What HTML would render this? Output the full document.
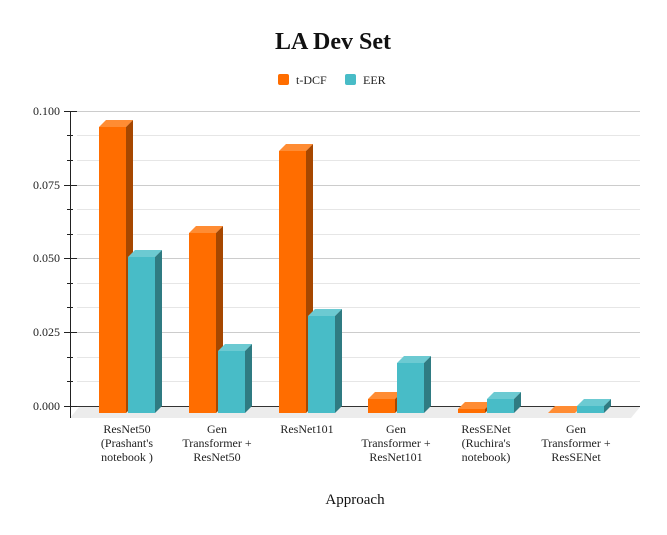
<!DOCTYPE html>
<html><head><style>body{margin:0;background:#fff}svg{display:block;font-family:"Liberation Serif",serif}</style></head><body>
<svg width="667" height="535" viewBox="0 0 667 535">
<text x="333" y="49" text-anchor="middle" font-size="24" font-weight="bold" fill="#111">LA Dev Set</text>
<rect x="278" y="74" width="11" height="11" rx="2" fill="#ff6d00"/><text x="296" y="84" font-size="12" fill="#222">t-DCF</text>
<rect x="345" y="74" width="11" height="11" rx="2" fill="#48bcc7"/><text x="363" y="84" font-size="12" fill="#222">EER</text>
<polygon points="70,418 79,407 640,407 631,418" fill="#ececec"/>
<g stroke-width="1">
<line x1="77" y1="111.5" x2="640" y2="111.5" stroke="#ccc"/>
<line x1="77" y1="135.5" x2="640" y2="135.5" stroke="#e6e6e6"/>
<line x1="77" y1="160.5" x2="640" y2="160.5" stroke="#e6e6e6"/>
<line x1="77" y1="185.5" x2="640" y2="185.5" stroke="#ccc"/>
<line x1="77" y1="209.5" x2="640" y2="209.5" stroke="#e6e6e6"/>
<line x1="77" y1="234.5" x2="640" y2="234.5" stroke="#e6e6e6"/>
<line x1="77" y1="258.5" x2="640" y2="258.5" stroke="#ccc"/>
<line x1="77" y1="283.5" x2="640" y2="283.5" stroke="#e6e6e6"/>
<line x1="77" y1="307.5" x2="640" y2="307.5" stroke="#e6e6e6"/>
<line x1="77" y1="332.5" x2="640" y2="332.5" stroke="#ccc"/>
<line x1="77" y1="357.5" x2="640" y2="357.5" stroke="#e6e6e6"/>
<line x1="77" y1="381.5" x2="640" y2="381.5" stroke="#e6e6e6"/>
<line x1="77" y1="406.5" x2="640" y2="406.5" stroke="#333"/>
<line x1="70.5" y1="111" x2="70.5" y2="418" stroke="#222"/>
<g stroke="#222">
<line x1="64" y1="111.5" x2="77" y2="111.5"/><line x1="67" y1="135.5" x2="73" y2="135.5"/><line x1="67" y1="160.5" x2="73" y2="160.5"/>
<line x1="64" y1="185.5" x2="77" y2="185.5"/><line x1="67" y1="209.5" x2="73" y2="209.5"/><line x1="67" y1="234.5" x2="73" y2="234.5"/>
<line x1="64" y1="258.5" x2="77" y2="258.5"/><line x1="67" y1="283.5" x2="73" y2="283.5"/><line x1="67" y1="307.5" x2="73" y2="307.5"/>
<line x1="64" y1="332.5" x2="77" y2="332.5"/><line x1="67" y1="357.5" x2="73" y2="357.5"/><line x1="67" y1="381.5" x2="73" y2="381.5"/>
<line x1="64" y1="406.5" x2="77" y2="406.5"/>
</g></g>
<g font-size="12" fill="#222" text-anchor="end">
<text x="60" y="115">0.100</text><text x="60" y="189">0.075</text><text x="60" y="262">0.050</text><text x="60" y="336">0.025</text><text x="60" y="410">0.000</text>
</g>
<g>
<rect x="99" y="127" width="27" height="286" fill="#ff6d00"/><polygon points="99,127 106,120 133,120 126,127" fill="#ff8c33"/><polygon points="126,127 133,120 133,406 126,413" fill="#a64700"/>
<rect x="128" y="257" width="27" height="156" fill="#48bcc7"/><polygon points="128,257 135,250 162,250 155,257" fill="#6ccad2"/><polygon points="155,257 162,250 162,406 155,413" fill="#2f7b82"/>
<rect x="189" y="233" width="27" height="180" fill="#ff6d00"/><polygon points="189,233 196,226 223,226 216,233" fill="#ff8c33"/><polygon points="216,233 223,226 223,406 216,413" fill="#a64700"/>
<rect x="218" y="351" width="27" height="62" fill="#48bcc7"/><polygon points="218,351 225,344 252,344 245,351" fill="#6ccad2"/><polygon points="245,351 252,344 252,406 245,413" fill="#2f7b82"/>
<rect x="279" y="151" width="27" height="262" fill="#ff6d00"/><polygon points="279,151 286,144 313,144 306,151" fill="#ff8c33"/><polygon points="306,151 313,144 313,406 306,413" fill="#a64700"/>
<rect x="308" y="316" width="27" height="97" fill="#48bcc7"/><polygon points="308,316 315,309 342,309 335,316" fill="#6ccad2"/><polygon points="335,316 342,309 342,406 335,413" fill="#2f7b82"/>
<rect x="368" y="399" width="27" height="14" fill="#ff6d00"/><polygon points="368,399 375,392 402,392 395,399" fill="#ff8c33"/><polygon points="395,399 402,392 402,406 395,413" fill="#a64700"/>
<rect x="397" y="363" width="27" height="50" fill="#48bcc7"/><polygon points="397,363 404,356 431,356 424,363" fill="#6ccad2"/><polygon points="424,363 431,356 431,406 424,413" fill="#2f7b82"/>
<rect x="458" y="409" width="27" height="4" fill="#ff6d00"/><polygon points="458,409 465,402 492,402 485,409" fill="#ff8c33"/><polygon points="485,409 492,402 492,406 485,413" fill="#a64700"/>
<rect x="487" y="399" width="27" height="14" fill="#48bcc7"/><polygon points="487,399 494,392 521,392 514,399" fill="#6ccad2"/><polygon points="514,399 521,392 521,406 514,413" fill="#2f7b82"/>
<polygon points="548,413 555,406 582,406 575,413" fill="#ff8c33"/>
<rect x="577" y="406" width="27" height="7" fill="#48bcc7"/><polygon points="577,406 584,399 611,399 604,406" fill="#6ccad2"/><polygon points="604,406 611,399 611,406 604,413" fill="#2f7b82"/>
</g>
<g font-size="12" fill="#222" text-anchor="middle">
<text x="127" y="433">ResNet50</text><text x="127" y="447">(Prashant's</text><text x="127" y="461">notebook )</text>
<text x="217" y="433">Gen</text><text x="217" y="447">Transformer +</text><text x="217" y="461">ResNet50</text>
<text x="307" y="433">ResNet101</text>
<text x="396" y="433">Gen</text><text x="396" y="447">Transformer +</text><text x="396" y="461">ResNet101</text>
<text x="486" y="433">ResSENet</text><text x="486" y="447">(Ruchira's</text><text x="486" y="461">notebook)</text>
<text x="576" y="433">Gen</text><text x="576" y="447">Transformer +</text><text x="576" y="461">ResSENet</text>
</g>
<text x="355" y="504" text-anchor="middle" font-size="15" fill="#111">Approach</text>
</svg>
</body></html>
